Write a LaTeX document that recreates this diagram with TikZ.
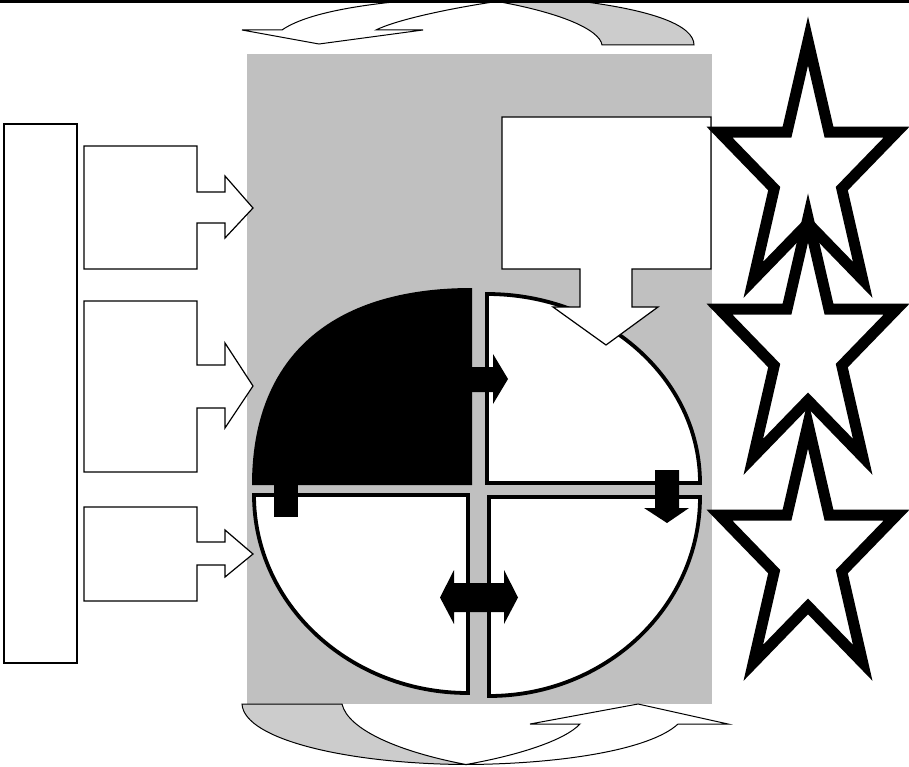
\documentclass[tikz,border=0pt]{standalone}
\definecolor{panelgrey}{HTML}{C0C0C0}
\definecolor{ribbongrey}{HTML}{CCCCCC}
\newcommand{\drawstarat}[1]{%
  \draw[starline, shift={(808,#1)}] (0,-132) -- (21,-40.8) -- (88.5,-40.8) -- (33.8,15.6) -- (54.7,106.8)
    -- (0,50.4) -- (-54.7,106.8) -- (-33.8,15.6) -- (-88.5,-40.8) -- (-21,-40.8) -- cycle;}
\begin{document}
\begin{tikzpicture}[x=1pt,y=-1pt,
  thinline/.style={draw=black, line width=1.2pt, fill=white},
  ribbonline/.style={draw=black, line width=1pt},
  quadline/.style={draw=black, line width=3.8pt, fill=white},
  starline/.style={draw=black, line width=11pt, fill=white, miter limit=10},
  solidblack/.style={fill=black}]
\useasboundingbox (0,0) rectangle (909,767);
\clip (0,0) rectangle (909,767);
% grey panel
\fill[panelgrey] (247,54) rectangle (712,704);
% top curved arrow
\draw[ribbonline, fill=ribbongrey] (602,45) -- (694,45) .. controls (694,26) and (655,7) .. (540,-3)
  -- (470,-3) .. controls (560,10) and (600,30) .. (602,45) -- cycle;
\draw[ribbonline, fill=white] (282,30) -- (242,30) -- (319,44) -- (423,30) -- (376,30)
  .. controls (400,18) and (470,4) .. (530,-3) -- (460,-3) .. controls (360,2) and (305,14) .. (282,30) -- cycle;
% bottom curved arrow
\draw[ribbonline, fill=ribbongrey] (242,704) -- (342,704) .. controls (348,730) and (400,752) .. (466,764.5)
  .. controls (350,764) and (244,740) .. (242,704) -- cycle;
\draw[ribbonline, fill=white] (580,724) -- (530,724) -- (638,704) -- (728,724) -- (678,724)
  .. controls (650,750) and (560,764) .. (466,764.5) .. controls (520,755) and (565,740) .. (580,724) -- cycle;
% left tall box
\draw[thinline] (4,124) rectangle (77,663);
% left callouts
\draw[thinline] (84,146) -- (197,146) -- (197,192) -- (225,192) -- (225,176) -- (253,208) -- (225,238)
  -- (225,223) -- (197,223) -- (197,269) -- (84,269) -- cycle;
\draw[thinline] (84,301) -- (197,301) -- (197,365) -- (225,365) -- (225,343) -- (253,386) -- (225,428)
  -- (225,408) -- (197,408) -- (197,472) -- (84,472) -- cycle;
\draw[thinline] (84,507) -- (197,507) -- (197,542) -- (225,542) -- (225,530) -- (253,554) -- (225,577)
  -- (225,565) -- (197,565) -- (197,601) -- (84,601) -- cycle;
% quadrants
\fill[black] (472,485) -- (252,485) .. controls (252,358) and (330,288) .. (472,288) -- cycle;
\draw[quadline] (487,483) -- (487,294) .. controls (604.6,294) and (700,378.6) .. (700,483) -- cycle;
\draw[quadline] (468,495) -- (254,495) .. controls (254,604.4) and (349.8,693) .. (468,693) -- cycle;
\draw[quadline] (489,497) -- (700,497) .. controls (700,606.9) and (605.5,696) .. (489,696) -- cycle;
% arrows inside
\fill[solidblack] (455,367) -- (493,367) -- (493,354) -- (508,379) -- (493,404) -- (493,392) -- (455,392) -- cycle;
\fill[solidblack] (655,470) -- (679,470) -- (679,508) -- (689,508) -- (667,523) -- (644,508) -- (655,508) -- cycle;
\fill[solidblack] (274,478) rectangle (298,517);
\fill[solidblack] (440,597.5) -- (454,570) -- (454,583) -- (504,583) -- (504,570) -- (518,597.5) -- (504,624)
  -- (504,612) -- (454,612) -- (454,624) -- cycle;
% top-right down callout
\draw[thinline] (502,117) -- (711,117) -- (711,269) -- (632,269) -- (632,307) -- (658,307) -- (606,345)
  -- (553,307) -- (580,307) -- (580,269) -- (502,269) -- cycle;
% stars
\drawstarat{173}
\drawstarat{350}
\drawstarat{556}
% top rule
\fill[black] (0,0) rectangle (909,3);
\end{tikzpicture}
\end{document}
